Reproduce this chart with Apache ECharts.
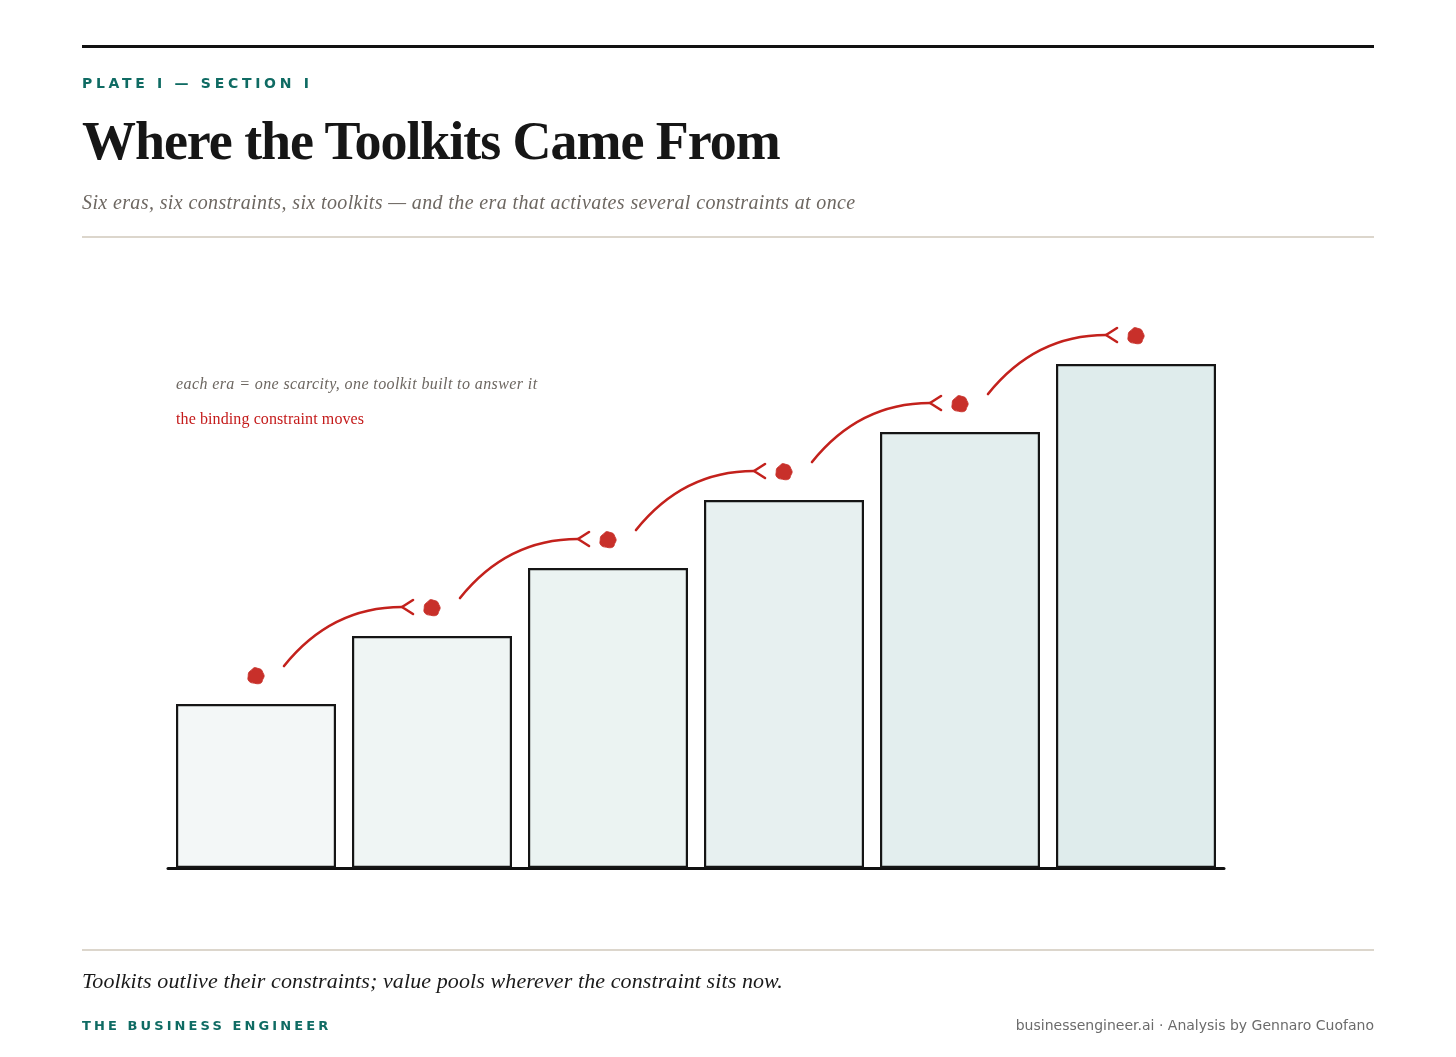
<!DOCTYPE html>
<html>
<head>
<meta charset="utf-8">
<script src="https://cdn.jsdelivr.net/npm/echarts@6/dist/echarts.min.js"></script>
<style>
  html, body { margin: 0; padding: 0; background: #ffffff; }
  #page { position: relative; width: 1456px; height: 1057px; overflow: hidden; background: #fff; }
  #chart { position: absolute; left: 0; top: 0; width: 1456px; height: 1057px; }
  .abs { position: absolute; white-space: nowrap; }
  .rule-top { left: 82px; top: 45px; width: 1292px; height: 3px; background: #111; }
  .rule { left: 82px; width: 1292px; height: 2px; background: #dcd6cc; }
  .kicker { left: 82px; top: 75px; line-height: 18px; font: bold 14px "DejaVu Sans", sans-serif; letter-spacing: 3.7px; color: #0f6b63; }
  .title { left: 82px; top: 110px; line-height: 60px; font: bold 54px "Liberation Serif", "Times New Roman", serif; color: #161616; letter-spacing: -1.05px; }
  .subtitle { left: 82px; top: 191px; line-height: 26px; font: italic 20px "Liberation Serif", serif; color: #6d6761; letter-spacing: 0.38px; }
  .note1 { left: 176px; top: 375px; line-height: 20px; font: italic 16px "Liberation Serif", serif; color: #6d6761; letter-spacing: 0.4px; }
  .note2 { left: 176px; top: 410px; line-height: 20px; font: 16px "Liberation Serif", serif; color: #c41a1a; letter-spacing: 0.1px; }
  .quote { left: 82px; top: 968px; line-height: 28px; font: italic 22px "Liberation Serif", serif; color: #1a1a1a; letter-spacing: 0.1px; }
  .brand { left: 82px; top: 1018px; line-height: 18px; font: bold 13px "DejaVu Sans", sans-serif; letter-spacing: 3.1px; color: #0f6b63; }
  .credit { right: 82px; top: 1017px; line-height: 18px; font: 14px "DejaVu Sans", sans-serif; color: #6b6b6b; }
</style>
</head>
<body>
<div id="page">
  <div id="chart"></div>
  <div class="abs rule-top"></div>
  <div class="abs kicker">PLATE I — SECTION I</div>
  <div class="abs title">Where the Toolkits Came From</div>
  <div class="abs subtitle">Six eras, six constraints, six toolkits — and the era that activates several constraints at once</div>
  <div class="abs rule" style="top:236px;"></div>
  <div class="abs note1" id="note1"></div>
  <div class="abs note2" id="note2"></div>
  <div class="abs rule" style="top:949px;"></div>
  <div class="abs quote">Toolkits outlive their constraints; value pools wherever the constraint sits now.</div>
  <div class="abs brand">THE BUSINESS ENGINEER</div>
  <div class="abs credit">businessengineer.ai · Analysis by Gennaro Cuofano</div>
</div>
<script>
// ---- data ----
const categories = ['Era I', 'Era II', 'Era III', 'Era IV', 'Era V', 'Era VI'];
const eraLevels = [41, 58, 75, 92, 109, 126];
const barFills = ['#f3f7f7', '#eff5f4', '#ebf3f2', '#e7f0f0', '#e3eeee', '#dfecec'];
const noteLines = ['each era = one scarcity, one toolkit built to answer it', 'the binding constraint moves'];

document.getElementById('note1').textContent = noteLines[0];
document.getElementById('note2').textContent = noteLines[1];

// ---- style ----
const RED = '#c3211c';
const DOT = '#c8302a';
const DOT_LIFT = 28;
const dotRadii = [8.2, 7.6, 8.6, 8.0, 7.4, 8.4, 8.8, 7.8, 8.1, 7.5, 8.5, 7.9, 8.3, 7.7];

const chart = echarts.init(document.getElementById('chart'), null, { renderer: 'canvas' });

function renderDot(params, api) {
  const p = api.coord([api.value(0), api.value(1)]);
  const cx = p[0], cy = p[1] - DOT_LIFT;
  const pts = dotRadii.map((r, k) => {
    const a = (k / dotRadii.length) * Math.PI * 2;
    return [cx + r * Math.cos(a), cy + r * Math.sin(a)];
  });
  return { type: 'polygon', shape: { points: pts, smooth: 0.4 }, style: { fill: DOT, stroke: DOT, lineWidth: 0.8 }, z2: 10 };
}

function renderArrow(params, api) {
  const a = api.coord([api.value(0), api.value(1)]);
  const b = api.coord([api.value(2), api.value(3)]);
  const x0 = a[0] + 28, y0 = a[1] - DOT_LIFT - 10;
  const x1 = b[0] - 30, y1 = b[1] - DOT_LIFT - 1;
  const cx = x0 + 0.4 * (x1 - x0), cy = y1;
  return {
    type: 'group',
    children: [
      { type: 'bezierCurve', shape: { x1: x0, y1: y0, x2: x1, y2: y1, cpx1: cx, cpy1: cy },
        style: { stroke: RED, lineWidth: 2.6, fill: null, lineCap: 'round' } },
      { type: 'polyline', shape: { points: [[x1 + 11, y1 - 7], [x1, y1], [x1 + 11, y1 + 7]] },
        style: { stroke: RED, lineWidth: 2.6, fill: null, lineCap: 'round', lineJoin: 'round' } }
    ]
  };
}

const arrowData = [];
for (let i = 0; i < eraLevels.length - 1; i++) arrowData.push([i, eraLevels[i], i + 1, eraLevels[i + 1]]);

chart.setOption({
  animation: false,
  grid: { left: 168, right: 232, top: 268, bottom: 189, containLabel: false },
  xAxis: {
    type: 'category', data: categories,
    axisLine: { show: true, lineStyle: { color: '#111', width: 3 } },
    axisTick: { show: false }, axisLabel: { show: false }, splitLine: { show: false }
  },
  yAxis: { type: 'value', min: 0, max: 150, show: false, splitLine: { show: false } },
  series: [
    {
      type: 'bar', data: eraLevels.map((v, i) => ({ value: v, itemStyle: { color: barFills[i] } })),
      barWidth: 160,
      itemStyle: { borderColor: '#151515', borderWidth: 2.2 },
      z: 2
    },
    { type: 'custom', renderItem: renderArrow, data: arrowData, z: 5, silent: true },
    { type: 'custom', renderItem: renderDot, data: eraLevels.map((v, i) => [i, v]), z: 6, silent: true }
  ]
});
</script>
</body>
</html>
